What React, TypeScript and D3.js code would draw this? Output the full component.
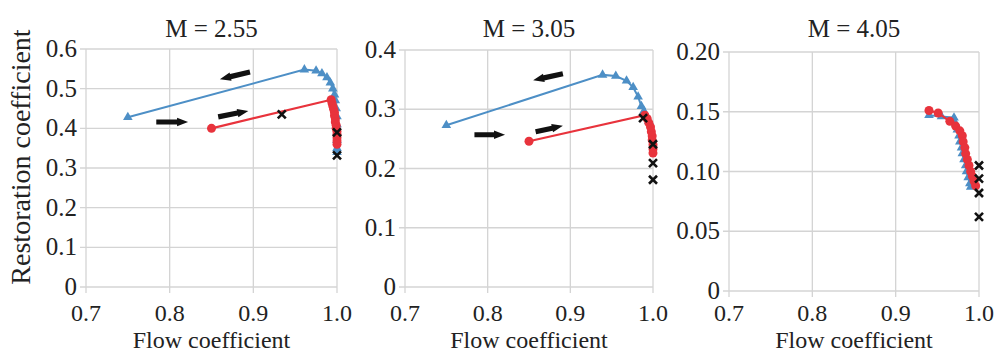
import React from "react";
import * as d3 from "d3";

// flow coefficient / restoration coefficient pairs
const titles = ["M = 2.55", "M = 3.05", "M = 4.05"];
const xTicks = [0.7, 0.8, 0.9, 1.0];
const yTicks1 = [0, 0.1, 0.2, 0.3, 0.4, 0.5, 0.6];
const yTicks2 = [0, 0.1, 0.2, 0.3, 0.4];
const yTicks3 = [0, 0.05, 0.1, 0.15, 0.2];

const blue1 = [
    [0.75, 0.428], [0.961, 0.548], [0.975, 0.545], [0.982, 0.538], [0.988, 0.528],
    [0.992, 0.515], [0.995, 0.5], [0.997, 0.485], [0.998, 0.47], [0.999, 0.45],
    [1.0, 0.43], [1.0, 0.41], [1.0, 0.39], [1.0, 0.37], [1.0, 0.35], [1.0, 0.34],
];
const red1 = [
    [0.85, 0.4], [0.993, 0.472], [0.994, 0.464], [0.995, 0.456], [0.996, 0.448],
    [0.997, 0.44], [0.997, 0.432], [0.998, 0.424], [0.998, 0.416], [0.999, 0.408],
    [0.999, 0.4], [1.0, 0.392], [1.0, 0.384], [1.0, 0.376], [1.0, 0.368], [1.0, 0.36],
];
const cross1 = [[0.934, 0.435], [1.0, 0.39], [1.0, 0.332]];
const arrows1 = [
    [0.896, 0.542, 0.86, 0.524],
    [0.784, 0.416, 0.822, 0.416],
    [0.858, 0.429, 0.894, 0.444],
];

const blue2 = [
    [0.75, 0.273], [0.939, 0.358], [0.955, 0.356], [0.968, 0.348], [0.976, 0.337],
    [0.982, 0.321], [0.986, 0.305], [0.989, 0.297], [0.992, 0.288], [0.995, 0.28],
];
const red2 = [
    [0.85, 0.246], [0.99, 0.29], [0.993, 0.284], [0.995, 0.277], [0.997, 0.27],
    [0.998, 0.262], [0.999, 0.255], [0.999, 0.248], [1.0, 0.24], [1.0, 0.233], [1.0, 0.226],
];
const cross2 = [[0.988, 0.285], [1.0, 0.241], [1.0, 0.209], [1.0, 0.181]];
const arrows2 = [
    [0.891, 0.36, 0.855, 0.349],
    [0.784, 0.257, 0.821, 0.257],
    [0.858, 0.262, 0.891, 0.272],
];

const blue3 = [
    [0.94, 0.147], [0.955, 0.146], [0.97, 0.145], [0.972, 0.14], [0.974, 0.135],
    [0.976, 0.13], [0.977, 0.125], [0.979, 0.12], [0.98, 0.115], [0.982, 0.11],
    [0.984, 0.105], [0.985, 0.1], [0.987, 0.095], [0.989, 0.09], [0.99, 0.087],
];
const red3 = [
    [0.94, 0.151], [0.951, 0.149], [0.965, 0.142], [0.972, 0.138], [0.977, 0.134],
    [0.98, 0.13], [0.981, 0.125], [0.983, 0.12], [0.984, 0.115], [0.986, 0.11],
    [0.988, 0.105], [0.99, 0.1], [0.992, 0.096], [0.994, 0.092], [0.996, 0.088],
];
const cross3 = [[1.0, 0.105], [1.0, 0.094], [1.0, 0.082], [1.0, 0.062]];
const arrows3: number[][] = [];

const blueColor = "#4d8fc6";
const redColor = "#e8333c";
const gridColor = "#d4d4d4";
const textStyle = { fontFamily: "Liberation Serif, serif" };

const panels = [
    { title: titles[0], left: 86, right: 337, top: 49, bottom: 287, yMax: 0.6, yTicks: yTicks1, fmt: (d: number) => (d === 0 ? "0" : d.toFixed(1)), blue: blue1, red: red1, cross: cross1, arrows: arrows1 },
    { title: titles[1], left: 405, right: 653, top: 50, bottom: 287, yMax: 0.4, yTicks: yTicks2, fmt: (d: number) => (d === 0 ? "0" : d.toFixed(1)), blue: blue2, red: red2, cross: cross2, arrows: arrows2 },
    { title: titles[2], left: 729, right: 979, top: 52, bottom: 291, yMax: 0.2, yTicks: yTicks3, fmt: (d: number) => (d === 0 ? "0" : d.toFixed(2)), blue: blue3, red: red3, cross: cross3, arrows: arrows3 },
];

const tri = d3.symbol(d3.symbolTriangle, 40)();

const Panel = ({ p }: any) => {
    const x = d3.scaleLinear([0.7, 1.0], [p.left, p.right]);
    const y = d3.scaleLinear([0, p.yMax], [p.bottom, p.top]);
    const line = d3.line().x((d: any) => x(d[0])).y((d: any) => y(d[1]));
    const cx = (p.left + p.right) / 2;
    return (
        <g>
            {/* grid */}
            {p.yTicks.map((t: number, i: number) => (
                <line key={`gy${i}`} x1={p.left - 6} x2={p.right} y1={y(t)} y2={y(t)} stroke={gridColor} strokeWidth={1.3} />
            ))}
            {xTicks.map((t: number, i: number) => (
                <line key={`gx${i}`} x1={x(t)} x2={x(t)} y1={p.top} y2={p.bottom + 6} stroke={gridColor} strokeWidth={1.3} />
            ))}
            {/* tick labels */}
            {p.yTicks.map((t: number, i: number) => (
                <text key={`ty${i}`} x={p.left - 9} y={y(t) + 8} textAnchor="end" fontSize={25} fill="#222" style={textStyle}>
                    {p.fmt(t)}
                </text>
            ))}
            {xTicks.map((t: number, i: number) => (
                <text key={`tx${i}`} x={x(t)} y={321} textAnchor="middle" fontSize={24} fill="#222" style={textStyle}>
                    {t.toFixed(1)}
                </text>
            ))}
            <text x={cx} y={37} textAnchor="middle" fontSize={25} fill="#222" style={textStyle}>{p.title}</text>
            <text x={cx} y={348} textAnchor="middle" fontSize={24} fill="#222" style={textStyle}>Flow coefficient</text>
            {/* series */}
            <path d={line(p.blue) as string} fill="none" stroke={blueColor} strokeWidth={2} />
            {p.blue.map((d: number[], i: number) => (
                <path key={`b${i}`} d={tri as string} transform={`translate(${x(d[0])},${y(d[1])})`} fill={blueColor} />
            ))}
            <path d={line(p.red) as string} fill="none" stroke={redColor} strokeWidth={2.2} />
            {p.red.map((d: number[], i: number) => (
                <circle key={`r${i}`} cx={x(d[0])} cy={y(d[1])} r={4.5} fill={redColor} />
            ))}
            {p.cross.map((d: number[], i: number) => (
                <path
                    key={`c${i}`}
                    d="M-4,-4L4,4M-4,4L4,-4"
                    transform={`translate(${x(d[0])},${y(d[1])})`}
                    stroke="#111"
                    strokeWidth={2.6}
                />
            ))}
            {/* direction arrows */}
            {p.arrows.map((a: number[], i: number) => {
                const x1 = x(a[0]);
                const y1 = y(a[1]);
                const x2 = x(a[2]);
                const y2 = y(a[3]);
                const len = Math.hypot(x2 - x1, y2 - y1);
                const ang = (Math.atan2(y2 - y1, x2 - x1) * 180) / Math.PI;
                const h = len - 11;
                return (
                    <path
                        key={`a${i}`}
                        d={`M0,-2.6L${h},-2.6L${h},-4.2L${len},0L${h},4.2L${h},2.6L0,2.6Z`}
                        transform={`translate(${x1},${y1}) rotate(${ang})`}
                        fill="#111"
                    />
                );
            })}
        </g>
    );
};

export default function App() {
    return (
        <svg width={995} height={352} style={{ position: "absolute", top: 0, left: 0, background: "#fff" }}>
            <rect width={995} height={352} fill="#fff" />
            {panels.map((p, i) => (
                <Panel key={i} p={p} />
            ))}
            <text transform="translate(30,157) rotate(-90)" textAnchor="middle" fontSize={28} fill="#222" style={textStyle}>
                Restoration coefficient
            </text>
        </svg>
    );
}
